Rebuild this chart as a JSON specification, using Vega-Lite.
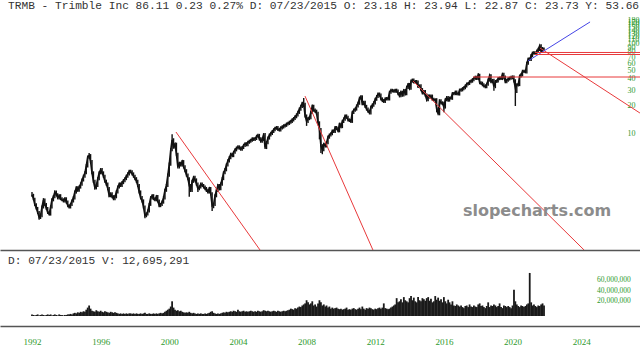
{
"$schema":"https://vega.github.io/schema/vega-lite/v6.json",
"padding":0,
"background":"white",
"spacing":4,
"config":{"view":{"stroke":null},"font":"Liberation Sans"},
"datasets":{
"px":[
{"t":"1992-01","c":2.05,"h":2.2,"l":1.95,"v":3},{"t":"1992-02","c":1.85,"h":2.1,"l":1.78,"v":2},{"t":"1992-03","c":1.6,"h":1.9,"l":1.54,"v":1},{"t":"1992-04","c":1.45,"h":1.65,"l":1.4,"v":2},{"t":"1992-05","c":1.3,"h":1.5,"l":1.25,"v":3},{"t":"1992-06","c":1.15,"h":1.35,"l":1.08,"v":1},{"t":"1992-07","c":1.2,"h":1.26,"l":1.1,"v":2},{"t":"1992-08","c":1.5,"h":1.56,"l":1.15,"v":3},{"t":"1992-09","c":1.8,"h":1.88,"l":1.44,"v":2},{"t":"1992-10","c":1.6,"h":1.86,"l":1.54,"v":1},{"t":"1992-11","c":1.45,"h":1.66,"l":1.39,"v":2},{"t":"1992-12","c":1.3,"h":1.5,"l":1.25,"v":3},
{"t":"1993-01","c":1.25,"h":1.35,"l":1.2,"v":2},{"t":"1993-02","c":1.5,"h":1.56,"l":1.2,"v":3},{"t":"1993-03","c":1.8,"h":1.87,"l":1.44,"v":1},{"t":"1993-04","c":1.95,"h":2.03,"l":1.73,"v":2},{"t":"1993-05","c":2.2,"h":2.29,"l":1.87,"v":3},{"t":"1993-06","c":2.05,"h":2.29,"l":1.97,"v":2},{"t":"1993-07","c":1.9,"h":2.13,"l":1.82,"v":1},{"t":"1993-08","c":2.0,"h":2.08,"l":1.82,"v":3},{"t":"1993-09","c":1.85,"h":2.08,"l":1.78,"v":2},{"t":"1993-10","c":1.8,"h":1.92,"l":1.73,"v":2},{"t":"1993-11","c":1.75,"h":1.87,"l":1.68,"v":1},{"t":"1993-12","c":1.85,"h":1.92,"l":1.68,"v":2},
{"t":"1994-01","c":1.7,"h":1.92,"l":1.63,"v":2},{"t":"1994-02","c":1.55,"h":1.77,"l":1.49,"v":3},{"t":"1994-03","c":1.5,"h":1.61,"l":1.44,"v":3},{"t":"1994-04","c":1.6,"h":1.66,"l":1.44,"v":4},{"t":"1994-05","c":1.75,"h":1.82,"l":1.54,"v":3},{"t":"1994-06","c":1.9,"h":1.98,"l":1.68,"v":5},{"t":"1994-07","c":2.2,"h":2.29,"l":1.82,"v":6},{"t":"1994-08","c":2.45,"h":2.55,"l":2.11,"v":5},{"t":"1994-09","c":2.3,"h":2.55,"l":2.21,"v":7},{"t":"1994-10","c":2.5,"h":2.6,"l":2.21,"v":6},{"t":"1994-11","c":2.7,"h":2.81,"l":2.4,"v":8},{"t":"1994-12","c":3.0,"h":3.12,"l":2.59,"v":7},
{"t":"1995-01","c":3.3,"h":3.43,"l":2.88,"v":9},{"t":"1995-02","c":3.6,"h":3.74,"l":3.17,"v":8},{"t":"1995-03","c":4.3,"h":4.47,"l":3.46,"v":12},{"t":"1995-04","c":5.4,"h":5.62,"l":4.13,"v":16},{"t":"1995-05","c":5.6,"h":6.0,"l":5.18,"v":20},{"t":"1995-06","c":4.8,"h":5.82,"l":4.6,"v":14},{"t":"1995-07","c":3.6,"h":4.99,"l":3.46,"v":10},{"t":"1995-08","c":2.9,"h":3.74,"l":2.78,"v":9},{"t":"1995-09","c":2.45,"h":3.02,"l":2.35,"v":8},{"t":"1995-10","c":2.6,"h":2.7,"l":2.35,"v":11},{"t":"1995-11","c":3.1,"h":3.22,"l":2.5,"v":9},{"t":"1995-12","c":3.6,"h":3.74,"l":2.98,"v":8},
{"t":"1996-01","c":3.9,"h":4.06,"l":3.46,"v":10},{"t":"1996-02","c":3.6,"h":4.06,"l":3.46,"v":8},{"t":"1996-03","c":3.3,"h":3.74,"l":3.17,"v":7},{"t":"1996-04","c":2.9,"h":3.43,"l":2.78,"v":9},{"t":"1996-05","c":2.7,"h":3.02,"l":2.59,"v":8},{"t":"1996-06","c":2.4,"h":2.81,"l":2.3,"v":7},{"t":"1996-07","c":2.0,"h":2.5,"l":1.92,"v":6},{"t":"1996-08","c":2.1,"h":2.18,"l":1.92,"v":8},{"t":"1996-09","c":1.95,"h":2.18,"l":1.87,"v":7},{"t":"1996-10","c":1.85,"h":2.03,"l":1.78,"v":6},{"t":"1996-11","c":1.95,"h":2.03,"l":1.78,"v":7},{"t":"1996-12","c":2.2,"h":2.29,"l":1.87,"v":6},
{"t":"1997-01","c":2.5,"h":2.6,"l":2.11,"v":5},{"t":"1997-02","c":2.7,"h":2.81,"l":2.4,"v":4},{"t":"1997-03","c":2.6,"h":2.81,"l":2.5,"v":5},{"t":"1997-04","c":2.8,"h":2.91,"l":2.5,"v":4},{"t":"1997-05","c":2.95,"h":3.07,"l":2.69,"v":5},{"t":"1997-06","c":3.1,"h":3.22,"l":2.83,"v":4},{"t":"1997-07","c":3.3,"h":3.43,"l":2.98,"v":5},{"t":"1997-08","c":3.5,"h":3.64,"l":3.17,"v":4},{"t":"1997-09","c":3.75,"h":3.9,"l":3.36,"v":5},{"t":"1997-10","c":3.7,"h":3.9,"l":3.55,"v":5},{"t":"1997-11","c":3.5,"h":3.85,"l":3.36,"v":4},{"t":"1997-12","c":3.3,"h":3.64,"l":3.17,"v":5},
{"t":"1998-01","c":3.1,"h":3.43,"l":2.98,"v":4},{"t":"1998-02","c":2.9,"h":3.22,"l":2.78,"v":5},{"t":"1998-03","c":2.6,"h":3.02,"l":2.5,"v":4},{"t":"1998-04","c":2.2,"h":2.7,"l":2.11,"v":4},{"t":"1998-05","c":1.9,"h":2.29,"l":1.82,"v":5},{"t":"1998-06","c":1.75,"h":1.98,"l":1.68,"v":4},{"t":"1998-07","c":1.5,"h":1.82,"l":1.44,"v":5},{"t":"1998-08","c":1.2,"h":1.56,"l":1.12,"v":6},{"t":"1998-09","c":1.25,"h":1.3,"l":1.15,"v":4},{"t":"1998-10","c":1.35,"h":1.4,"l":1.2,"v":4},{"t":"1998-11","c":1.6,"h":1.66,"l":1.3,"v":5},{"t":"1998-12","c":1.9,"h":1.98,"l":1.54,"v":4},
{"t":"1999-01","c":2.0,"h":2.08,"l":1.82,"v":4},{"t":"1999-02","c":1.85,"h":2.08,"l":1.78,"v":5},{"t":"1999-03","c":1.8,"h":1.92,"l":1.73,"v":4},{"t":"1999-04","c":1.95,"h":2.03,"l":1.73,"v":5},{"t":"1999-05","c":1.75,"h":2.03,"l":1.68,"v":4},{"t":"1999-06","c":1.55,"h":1.82,"l":1.49,"v":5},{"t":"1999-07","c":1.6,"h":1.66,"l":1.49,"v":6},{"t":"1999-08","c":1.7,"h":1.77,"l":1.54,"v":5},{"t":"1999-09","c":1.9,"h":1.98,"l":1.63,"v":6},{"t":"1999-10","c":2.3,"h":2.39,"l":1.82,"v":8},{"t":"1999-11","c":2.6,"h":2.7,"l":2.21,"v":10},{"t":"1999-12","c":3.4,"h":3.54,"l":2.5,"v":12},
{"t":"2000-01","c":4.5,"h":4.68,"l":3.26,"v":14},{"t":"2000-02","c":6.5,"h":6.76,"l":4.32,"v":18},{"t":"2000-03","c":8.4,"h":9.7,"l":6.24,"v":28},{"t":"2000-04","c":7.0,"h":8.74,"l":6.72,"v":16},{"t":"2000-05","c":7.5,"h":7.8,"l":6.72,"v":12},{"t":"2000-06","c":5.8,"h":7.8,"l":5.57,"v":10},{"t":"2000-07","c":4.2,"h":6.03,"l":4.03,"v":11},{"t":"2000-08","c":4.6,"h":4.78,"l":4.03,"v":9},{"t":"2000-09","c":4.4,"h":4.78,"l":4.22,"v":10},{"t":"2000-10","c":4.8,"h":4.99,"l":4.22,"v":8},{"t":"2000-11","c":4.2,"h":4.99,"l":4.03,"v":7},{"t":"2000-12","c":3.8,"h":4.37,"l":3.65,"v":6},
{"t":"2001-01","c":3.4,"h":3.95,"l":3.26,"v":7},{"t":"2001-02","c":3.1,"h":3.54,"l":2.98,"v":6},{"t":"2001-03","c":2.6,"h":3.22,"l":1.95,"v":8},{"t":"2001-04","c":2.3,"h":2.7,"l":2.2,"v":6},{"t":"2001-05","c":2.9,"h":3.02,"l":2.2,"v":5},{"t":"2001-06","c":3.2,"h":3.33,"l":2.78,"v":6},{"t":"2001-07","c":3.0,"h":3.33,"l":2.88,"v":5},{"t":"2001-08","c":2.7,"h":3.12,"l":2.59,"v":4},{"t":"2001-09","c":2.4,"h":2.81,"l":2.2,"v":5},{"t":"2001-10","c":2.5,"h":2.6,"l":2.3,"v":4},{"t":"2001-11","c":2.7,"h":2.81,"l":2.4,"v":5},{"t":"2001-12","c":2.6,"h":2.81,"l":2.5,"v":4},
{"t":"2002-01","c":2.5,"h":2.7,"l":2.4,"v":4},{"t":"2002-02","c":2.4,"h":2.6,"l":2.3,"v":5},{"t":"2002-03","c":2.3,"h":2.5,"l":2.2,"v":4},{"t":"2002-04","c":2.2,"h":2.39,"l":2.11,"v":5},{"t":"2002-05","c":2.4,"h":2.5,"l":2.11,"v":6},{"t":"2002-06","c":2.1,"h":2.5,"l":2.02,"v":8},{"t":"2002-07","c":1.55,"h":2.18,"l":1.35,"v":9},{"t":"2002-08","c":1.6,"h":1.66,"l":1.45,"v":6},{"t":"2002-09","c":2.0,"h":2.08,"l":1.54,"v":5},{"t":"2002-10","c":2.3,"h":2.39,"l":1.92,"v":4},{"t":"2002-11","c":2.6,"h":2.7,"l":2.2,"v":5},{"t":"2002-12","c":2.4,"h":2.7,"l":2.3,"v":4},
{"t":"2003-01","c":2.7,"h":2.81,"l":2.3,"v":5},{"t":"2003-02","c":3.1,"h":3.22,"l":2.59,"v":6},{"t":"2003-03","c":3.6,"h":3.74,"l":2.98,"v":7},{"t":"2003-04","c":3.9,"h":4.06,"l":3.46,"v":6},{"t":"2003-05","c":4.4,"h":4.58,"l":3.74,"v":8},{"t":"2003-06","c":4.9,"h":5.1,"l":4.22,"v":7},{"t":"2003-07","c":5.3,"h":5.51,"l":4.7,"v":8},{"t":"2003-08","c":5.8,"h":6.03,"l":5.09,"v":9},{"t":"2003-09","c":5.6,"h":6.03,"l":5.38,"v":8},{"t":"2003-10","c":6.1,"h":6.34,"l":5.38,"v":10},{"t":"2003-11","c":6.5,"h":6.76,"l":5.86,"v":9},{"t":"2003-12","c":6.8,"h":7.07,"l":6.24,"v":8},
{"t":"2004-01","c":7.0,"h":7.28,"l":6.53,"v":12},{"t":"2004-02","c":6.8,"h":7.28,"l":6.53,"v":9},{"t":"2004-03","c":6.6,"h":7.07,"l":6.34,"v":8},{"t":"2004-04","c":6.9,"h":7.18,"l":6.34,"v":9},{"t":"2004-05","c":7.3,"h":7.59,"l":6.62,"v":10},{"t":"2004-06","c":7.6,"h":7.9,"l":7.0,"v":8},{"t":"2004-07","c":7.4,"h":7.9,"l":7.1,"v":9},{"t":"2004-08","c":7.9,"h":8.22,"l":7.1,"v":8},{"t":"2004-09","c":8.1,"h":8.42,"l":7.58,"v":9},{"t":"2004-10","c":8.3,"h":8.63,"l":7.78,"v":10},{"t":"2004-11","c":8.6,"h":8.94,"l":7.97,"v":9},{"t":"2004-12","c":8.5,"h":8.94,"l":8.16,"v":8},
{"t":"2005-01","c":8.7,"h":9.05,"l":8.16,"v":9},{"t":"2005-02","c":9.2,"h":9.57,"l":8.35,"v":8},{"t":"2005-03","c":9.4,"h":9.78,"l":8.83,"v":10},{"t":"2005-04","c":8.6,"h":9.78,"l":8.26,"v":9},{"t":"2005-05","c":8.1,"h":8.94,"l":7.78,"v":8},{"t":"2005-06","c":8.5,"h":8.84,"l":7.78,"v":9},{"t":"2005-07","c":9.6,"h":9.98,"l":8.16,"v":11},{"t":"2005-08","c":6.9,"h":9.98,"l":6.62,"v":10},{"t":"2005-09","c":7.8,"h":8.11,"l":6.62,"v":9},{"t":"2005-10","c":8.8,"h":9.15,"l":7.49,"v":10},{"t":"2005-11","c":9.5,"h":9.88,"l":8.45,"v":9},{"t":"2005-12","c":9.9,"h":10.3,"l":9.12,"v":8},
{"t":"2006-01","c":10.4,"h":10.8,"l":9.5,"v":9},{"t":"2006-02","c":10.9,"h":11.3,"l":10.0,"v":10},{"t":"2006-03","c":11.3,"h":11.75,"l":10.46,"v":9},{"t":"2006-04","c":11.5,"h":11.96,"l":10.85,"v":8},{"t":"2006-05","c":11.0,"h":11.96,"l":10.56,"v":10},{"t":"2006-06","c":10.8,"h":11.44,"l":10.37,"v":9},{"t":"2006-07","c":11.4,"h":11.86,"l":10.37,"v":8},{"t":"2006-08","c":11.7,"h":12.17,"l":10.94,"v":9},{"t":"2006-09","c":12.0,"h":12.48,"l":11.23,"v":10},{"t":"2006-10","c":12.2,"h":12.69,"l":11.52,"v":9},{"t":"2006-11","c":12.6,"h":13.1,"l":11.71,"v":10},{"t":"2006-12","c":12.8,"h":13.31,"l":12.1,"v":11},
{"t":"2007-01","c":13.2,"h":13.73,"l":12.29,"v":12},{"t":"2007-02","c":13.5,"h":14.04,"l":12.67,"v":14},{"t":"2007-03","c":14.0,"h":14.56,"l":12.96,"v":13},{"t":"2007-04","c":14.5,"h":15.08,"l":13.44,"v":12},{"t":"2007-05","c":15.2,"h":15.81,"l":13.92,"v":15},{"t":"2007-06","c":15.9,"h":16.54,"l":14.59,"v":14},{"t":"2007-07","c":17.0,"h":17.68,"l":15.26,"v":16},{"t":"2007-08","c":18.5,"h":19.24,"l":16.32,"v":18},{"t":"2007-09","c":19.8,"h":20.59,"l":17.76,"v":17},{"t":"2007-10","c":21.5,"h":22.36,"l":19.0,"v":20},{"t":"2007-11","c":21.0,"h":24.5,"l":19.5,"v":22},{"t":"2007-12","c":15.5,"h":21.8,"l":14.9,"v":24},
{"t":"2008-01","c":13.5,"h":16.1,"l":12.0,"v":30},{"t":"2008-02","c":14.5,"h":15.1,"l":12.96,"v":26},{"t":"2008-03","c":14.8,"h":15.4,"l":13.9,"v":22},{"t":"2008-04","c":17.0,"h":17.7,"l":14.2,"v":24},{"t":"2008-05","c":19.8,"h":20.6,"l":16.3,"v":28},{"t":"2008-06","c":18.0,"h":20.6,"l":17.3,"v":20},{"t":"2008-07","c":17.5,"h":18.7,"l":16.8,"v":22},{"t":"2008-08","c":16.5,"h":18.2,"l":15.8,"v":18},{"t":"2008-09","c":13.0,"h":17.2,"l":12.5,"v":24},{"t":"2008-10","c":11.0,"h":13.5,"l":8.5,"v":30},{"t":"2008-11","c":7.2,"h":11.4,"l":6.0,"v":26},{"t":"2008-12","c":6.5,"h":7.5,"l":5.8,"v":20},
{"t":"2009-01","c":7.5,"h":7.8,"l":6.24,"v":22},{"t":"2009-02","c":7.2,"h":7.8,"l":6.9,"v":18},{"t":"2009-03","c":7.8,"h":8.1,"l":6.9,"v":20},{"t":"2009-04","c":9.0,"h":9.36,"l":7.49,"v":16},{"t":"2009-05","c":9.5,"h":9.88,"l":8.64,"v":18},{"t":"2009-06","c":9.8,"h":10.19,"l":9.12,"v":14},{"t":"2009-07","c":10.5,"h":10.92,"l":9.41,"v":16},{"t":"2009-08","c":10.4,"h":10.92,"l":9.98,"v":14},{"t":"2009-09","c":11.5,"h":11.96,"l":9.98,"v":15},{"t":"2009-10","c":11.2,"h":11.96,"l":10.75,"v":16},{"t":"2009-11","c":10.6,"h":11.65,"l":10.18,"v":14},{"t":"2009-12","c":12.5,"h":13.0,"l":10.18,"v":13},
{"t":"2010-01","c":11.8,"h":13.0,"l":11.33,"v":14},{"t":"2010-02","c":13.5,"h":14.04,"l":11.33,"v":12},{"t":"2010-03","c":14.3,"h":14.87,"l":12.96,"v":13},{"t":"2010-04","c":15.5,"h":16.12,"l":13.73,"v":14},{"t":"2010-05","c":15.0,"h":16.12,"l":14.4,"v":16},{"t":"2010-06","c":14.0,"h":15.6,"l":13.44,"v":12},{"t":"2010-07","c":13.8,"h":14.56,"l":13.25,"v":13},{"t":"2010-08","c":13.5,"h":14.35,"l":12.96,"v":12},{"t":"2010-09","c":17.0,"h":17.68,"l":12.96,"v":14},{"t":"2010-10","c":18.0,"h":18.72,"l":16.32,"v":15},{"t":"2010-11","c":18.5,"h":19.24,"l":17.28,"v":13},{"t":"2010-12","c":20.0,"h":20.8,"l":17.76,"v":12},
{"t":"2011-01","c":21.5,"h":22.36,"l":19.2,"v":14},{"t":"2011-02","c":24.5,"h":25.48,"l":20.64,"v":16},{"t":"2011-03","c":25.3,"h":26.3,"l":23.5,"v":13},{"t":"2011-04","c":21.2,"h":26.3,"l":20.35,"v":18},{"t":"2011-05","c":22.0,"h":22.88,"l":20.35,"v":14},{"t":"2011-06","c":19.8,"h":22.88,"l":19.0,"v":12},{"t":"2011-07","c":18.5,"h":20.6,"l":17.76,"v":15},{"t":"2011-08","c":17.5,"h":19.24,"l":16.8,"v":14},{"t":"2011-09","c":16.8,"h":18.2,"l":16.13,"v":16},{"t":"2011-10","c":19.5,"h":20.28,"l":16.13,"v":15},{"t":"2011-11","c":20.5,"h":21.32,"l":18.72,"v":13},{"t":"2011-12","c":21.7,"h":22.57,"l":19.68,"v":12},
{"t":"2012-01","c":23.8,"h":24.75,"l":20.83,"v":14},{"t":"2012-02","c":25.5,"h":26.52,"l":22.85,"v":13},{"t":"2012-03","c":27.2,"h":28.29,"l":24.48,"v":15},{"t":"2012-04","c":26.5,"h":28.29,"l":25.44,"v":16},{"t":"2012-05","c":24.0,"h":27.56,"l":23.04,"v":14},{"t":"2012-06","c":23.0,"h":24.96,"l":22.08,"v":16},{"t":"2012-07","c":22.5,"h":23.92,"l":21.6,"v":24},{"t":"2012-08","c":24.0,"h":24.96,"l":21.6,"v":15},{"t":"2012-09","c":24.2,"h":25.17,"l":23.04,"v":14},{"t":"2012-10","c":24.0,"h":25.17,"l":23.04,"v":13},{"t":"2012-11","c":28.5,"h":29.64,"l":23.04,"v":14},{"t":"2012-12","c":29.9,"h":31.1,"l":27.36,"v":16},
{"t":"2013-01","c":29.5,"h":31.1,"l":28.32,"v":18},{"t":"2013-02","c":29.3,"h":30.68,"l":28.13,"v":20},{"t":"2013-03","c":30.0,"h":31.2,"l":28.13,"v":22},{"t":"2013-04","c":29.3,"h":31.2,"l":28.13,"v":34},{"t":"2013-05","c":27.5,"h":30.47,"l":26.4,"v":26},{"t":"2013-06","c":26.0,"h":28.6,"l":24.96,"v":28},{"t":"2013-07","c":28.5,"h":29.64,"l":24.96,"v":32},{"t":"2013-08","c":26.5,"h":29.64,"l":25.44,"v":26},{"t":"2013-09","c":29.7,"h":30.89,"l":25.44,"v":36},{"t":"2013-10","c":27.5,"h":30.89,"l":26.4,"v":30},{"t":"2013-11","c":32.3,"h":33.59,"l":26.4,"v":28},{"t":"2013-12","c":34.7,"h":36.09,"l":31.0,"v":26},
{"t":"2014-01","c":31.6,"h":36.09,"l":30.34,"v":34},{"t":"2014-02","c":37.9,"h":39.42,"l":30.34,"v":38},{"t":"2014-03","c":38.9,"h":40.46,"l":36.38,"v":30},{"t":"2014-04","c":37.0,"h":40.46,"l":35.52,"v":35},{"t":"2014-05","c":37.5,"h":39.0,"l":35.52,"v":28},{"t":"2014-06","c":36.9,"h":39.0,"l":35.42,"v":26},{"t":"2014-07","c":33.0,"h":38.38,"l":31.68,"v":36},{"t":"2014-08","c":33.5,"h":34.84,"l":31.68,"v":30},{"t":"2014-09","c":30.5,"h":34.84,"l":29.28,"v":28},{"t":"2014-10","c":28.0,"h":31.72,"l":26.88,"v":34},{"t":"2014-11","c":29.0,"h":30.16,"l":26.88,"v":32},{"t":"2014-12","c":26.5,"h":30.16,"l":25.44,"v":29},
{"t":"2015-01","c":23.5,"h":27.56,"l":22.56,"v":34},{"t":"2015-02","c":25.9,"h":26.94,"l":22.56,"v":36},{"t":"2015-03","c":25.2,"h":26.94,"l":24.19,"v":29},{"t":"2015-04","c":25.8,"h":26.83,"l":24.19,"v":33},{"t":"2015-05","c":23.7,"h":26.83,"l":22.75,"v":26},{"t":"2015-06","c":23.5,"h":24.65,"l":22.56,"v":28},{"t":"2015-07","c":23.5,"h":24.44,"l":22.56,"v":38},{"t":"2015-08","c":18.5,"h":24.44,"l":17.0,"v":31},{"t":"2015-09","c":16.4,"h":19.24,"l":15.74,"v":35},{"t":"2015-10","c":22.8,"h":23.71,"l":15.74,"v":29},{"t":"2015-11","c":21.7,"h":23.71,"l":20.83,"v":32},{"t":"2015-12","c":21.4,"h":22.57,"l":20.54,"v":26},
{"t":"2016-01","c":19.5,"h":22.26,"l":17.0,"v":36},{"t":"2016-02","c":23.5,"h":24.44,"l":18.72,"v":28},{"t":"2016-03","c":24.8,"h":25.79,"l":22.56,"v":24},{"t":"2016-04","c":23.3,"h":25.79,"l":22.37,"v":31},{"t":"2016-05","c":24.5,"h":25.48,"l":22.37,"v":26},{"t":"2016-06","c":24.4,"h":25.48,"l":23.42,"v":22},{"t":"2016-07","c":27.5,"h":28.6,"l":23.42,"v":28},{"t":"2016-08","c":27.5,"h":28.6,"l":26.4,"v":20},{"t":"2016-09","c":28.6,"h":29.74,"l":26.4,"v":19},{"t":"2016-10","c":27.5,"h":29.74,"l":26.4,"v":22},{"t":"2016-11","c":27.2,"h":28.6,"l":26.11,"v":20},{"t":"2016-12","c":30.1,"h":31.3,"l":26.11,"v":18},
{"t":"2017-01","c":30.3,"h":31.51,"l":28.9,"v":20},{"t":"2017-02","c":31.2,"h":32.45,"l":29.09,"v":17},{"t":"2017-03","c":32.0,"h":33.28,"l":29.95,"v":15},{"t":"2017-04","c":33.4,"h":34.74,"l":30.72,"v":19},{"t":"2017-05","c":35.2,"h":36.61,"l":32.06,"v":20},{"t":"2017-06","c":35.7,"h":37.13,"l":33.79,"v":17},{"t":"2017-07","c":37.3,"h":38.79,"l":34.27,"v":22},{"t":"2017-08","c":37.9,"h":39.42,"l":35.81,"v":18},{"t":"2017-09","c":39.3,"h":40.87,"l":36.38,"v":17},{"t":"2017-10","c":40.8,"h":42.43,"l":37.73,"v":20},{"t":"2017-11","c":41.9,"h":43.58,"l":39.17,"v":18},{"t":"2017-12","c":40.6,"h":43.58,"l":38.98,"v":17},
{"t":"2018-01","c":44.0,"h":46.5,"l":38.98,"v":22},{"t":"2018-02","c":36.4,"h":45.76,"l":34.94,"v":24},{"t":"2018-03","c":35.9,"h":37.86,"l":34.46,"v":19},{"t":"2018-04","c":34.5,"h":37.34,"l":33.12,"v":20},{"t":"2018-05","c":33.5,"h":35.88,"l":32.16,"v":17},{"t":"2018-06","c":32.8,"h":34.84,"l":31.49,"v":15},{"t":"2018-07","c":35.0,"h":36.4,"l":31.49,"v":19},{"t":"2018-08","c":38.9,"h":40.46,"l":33.6,"v":26},{"t":"2018-09","c":43.5,"h":45.24,"l":37.34,"v":17},{"t":"2018-10","c":37.4,"h":45.24,"l":35.9,"v":20},{"t":"2018-11","c":38.6,"h":40.14,"l":35.9,"v":19},{"t":"2018-12","c":32.9,"h":40.14,"l":29.5,"v":22},
{"t":"2019-01","c":37.5,"h":39.0,"l":31.58,"v":20},{"t":"2019-02","c":38.0,"h":39.52,"l":36.0,"v":17},{"t":"2019-03","c":40.4,"h":42.02,"l":36.48,"v":19},{"t":"2019-04","c":40.9,"h":42.54,"l":38.78,"v":24},{"t":"2019-05","c":40.5,"h":42.54,"l":38.88,"v":17},{"t":"2019-06","c":45.1,"h":46.9,"l":38.88,"v":15},{"t":"2019-07","c":42.0,"h":46.9,"l":40.32,"v":20},{"t":"2019-08","c":37.3,"h":43.68,"l":35.81,"v":19},{"t":"2019-09","c":38.8,"h":40.35,"l":35.81,"v":17},{"t":"2019-10","c":40.1,"h":41.7,"l":37.25,"v":19},{"t":"2019-11","c":40.9,"h":42.54,"l":38.5,"v":17},{"t":"2019-12","c":41.7,"h":43.37,"l":39.26,"v":15},
{"t":"2020-01","c":42.2,"h":43.89,"l":40.03,"v":20},{"t":"2020-02","c":38.2,"h":43.89,"l":36.67,"v":50},{"t":"2020-03","c":31.8,"h":39.73,"l":20.0,"v":28},{"t":"2020-04","c":34.4,"h":35.78,"l":28.0,"v":22},{"t":"2020-05","c":34.7,"h":36.09,"l":33.0,"v":19},{"t":"2020-06","c":43.2,"h":44.93,"l":33.31,"v":17},{"t":"2020-07","c":44.5,"h":46.28,"l":41.47,"v":20},{"t":"2020-08","c":48.8,"h":50.75,"l":42.72,"v":19},{"t":"2020-09","c":48.7,"h":50.75,"l":46.75,"v":17},{"t":"2020-10","c":48.1,"h":50.65,"l":46.18,"v":19},{"t":"2020-11","c":60.0,"h":62.4,"l":46.18,"v":22},{"t":"2020-12","c":66.8,"h":69.47,"l":57.6,"v":24},
{"t":"2021-01","c":66.0,"h":69.47,"l":63.36,"v":82},{"t":"2021-02","c":73.2,"h":76.13,"l":63.36,"v":26},{"t":"2021-03","c":77.8,"h":80.91,"l":70.27,"v":20},{"t":"2021-04","c":77.8,"h":82.0,"l":74.69,"v":22},{"t":"2021-05","c":77.3,"h":80.9,"l":74.2,"v":19},{"t":"2021-06","c":81.8,"h":85.07,"l":74.2,"v":17},{"t":"2021-07","c":85.5,"h":88.92,"l":78.53,"v":20},{"t":"2021-08","c":94.0,"h":96.5,"l":82.08,"v":19},{"t":"2021-09","c":82.2,"h":97.76,"l":78.91,"v":22},{"t":"2021-10","c":87.4,"h":90.9,"l":78.91,"v":24},{"t":"2021-11","c":86.1,"h":90.0,"l":83.0,"v":20}
],
"tl":[
{"t1":"2000-05-22","p1":10.26,"t2":"2005-04-15","p2":0.4963,"kind":"down"},
{"t1":"2007-11-28","p1":25.8,"t2":"2011-11-13","p2":0.4963,"kind":"down"},
{"t1":"2014-03-14","p1":38,"t2":"2024-03-03","p2":0.4963,"kind":"down"},
{"t1":"2021-08-07","p1":88.6,"t2":"2027-06-05","p2":16.7,"kind":"down"},
{"t1":"2020-11-26","p1":63.6,"t2":"2024-07-08","p2":173,"kind":"up"},
{"t1":"2021-04-23","p1":79,"t2":"2028-06-01","p2":79,"kind":"level"},
{"t1":"2021-04-23","p1":75,"t2":"2028-06-01","p2":75,"kind":"level"},
{"t1":"2017-09-12","p1":42.1,"t2":"2028-06-01","p2":42.1,"kind":"level"}
],
"vticks":[{"v":20,"lab":"20,000,000"},{"v":40,"lab":"40,000,000"},{"v":60,"lab":"60,000,000"}]
},
"vconcat":[
{
"width":640,"height":233,
"title":{"text":"TRMB - Trimble Inc 86.11 0.23 0.27% D: 07/23/2015 O: 23.18 H: 23.94 L: 22.87 C: 23.73 Y: 53.66","anchor":"start","dx":8,"font":"Liberation Mono","fontSize":11.2,"fontWeight":"normal","color":"#333333","offset":5},
"layer":[
{"data":{"name":"px"},"mark":{"type":"rule","color":"#111111","strokeWidth":1.4},
"encoding":{
"x":{"field":"t","type":"temporal","scale":{"type":"utc","domain":[{"year":1990,"month":2,"date":19,"utc":true},{"year":2027,"month":6,"date":6,"utc":true}]},
"axis":{"orient":"bottom","labels":false,"ticks":false,"grid":false,"domain":true,"domainColor":"#555555","domainWidth":1.5,"title":null}},
"y":{"field":"l","type":"quantitative","scale":{"type":"log","domain":[0.4963,196.4],"nice":false,"zero":false},
"axis":{"orient":"right","offset":-13,"values":[10,20,30,40,50,60,70,80,90,100,110,120,130,140,150,160,170,180],"format":"d","labelOverlap":false,"labelFont":"Liberation Serif","labelFontSize":8,"labelColor":"#2e9a2e","labelPadding":0,"domain":false,"ticks":false,"grid":false,"title":null}},
"y2":{"field":"h"}}},
{"data":{"name":"px"},"mark":{"type":"line","color":"#111111","strokeWidth":1.6},
"encoding":{"x":{"field":"t","type":"temporal"},"y":{"field":"c","type":"quantitative"}}},
{"data":{"name":"tl"},"mark":{"type":"rule","strokeWidth":1,"clip":true},
"encoding":{"x":{"field":"t1","type":"temporal"},"x2":{"field":"t2"},"y":{"field":"p1","type":"quantitative"},"y2":{"field":"p2"},
"color":{"field":"kind","type":"nominal","scale":{"domain":["down","up","level"],"range":["#e8393b","#4545e6","#e8393b"]},"legend":null}}},
{"data":{"values":[{"site":"slopecharts.com"}]},"mark":{"type":"text","font":"DejaVu Sans","fontWeight":"bold","fontSize":16,"color":"#8c8c8c","align":"center","baseline":"middle"},
"encoding":{"text":{"field":"site"},"x":{"datum":{"year":2021,"month":6,"date":5,"utc":true},"type":"temporal"},"y":{"datum":1.35,"type":"quantitative"}}}
]
},
{
"width":640,"height":58,
"title":{"text":"D: 07/23/2015 V: 12,695,291","anchor":"start","dx":8,"font":"Liberation Mono","fontSize":11.2,"fontWeight":"normal","color":"#333333","offset":2},
"layer":[
{"data":{"name":"px"},"mark":{"type":"rule","color":"#1a1a1a","strokeWidth":1.8},
"encoding":{
"x":{"field":"t","type":"temporal","scale":{"type":"utc","domain":[{"year":1990,"month":2,"date":19,"utc":true},{"year":2027,"month":6,"date":6,"utc":true}]},
"axis":{"orient":"bottom","format":"%Y","tickCount":{"interval":"year","step":4},"labels":true,"ticks":false,"grid":false,"domain":true,"domainColor":"#555555","domainWidth":1.5,"labelFont":"Liberation Serif","labelFontSize":9,"labelColor":"#2e9a2e","labelPadding":11,"title":null}},
"y":{"field":"v","type":"quantitative","scale":{"domain":[0,60],"range":[48,16.5],"nice":false,"zero":true},"axis":null},
"y2":{"datum":0}}},
{"mark":{"type":"rule","color":"#e8393b","strokeWidth":1,"clip":true},
"encoding":{"x":{"datum":{"year":2021,"month":11,"date":20,"utc":true},"type":"temporal"},"x2":{"datum":{"year":2028,"month":6,"date":1,"utc":true}},"y":{"datum":0,"type":"quantitative"}}},
{"data":{"name":"vticks"},"mark":{"type":"text","font":"Liberation Serif","fontSize":7.5,"color":"#2e9a2e","align":"left","baseline":"middle","dy":-4.5},
"encoding":{"text":{"field":"lab"},"x":{"datum":{"year":2024,"month":12,"date":5,"utc":true},"type":"temporal"},"y":{"field":"v","type":"quantitative"}}}
]
}
]
}
